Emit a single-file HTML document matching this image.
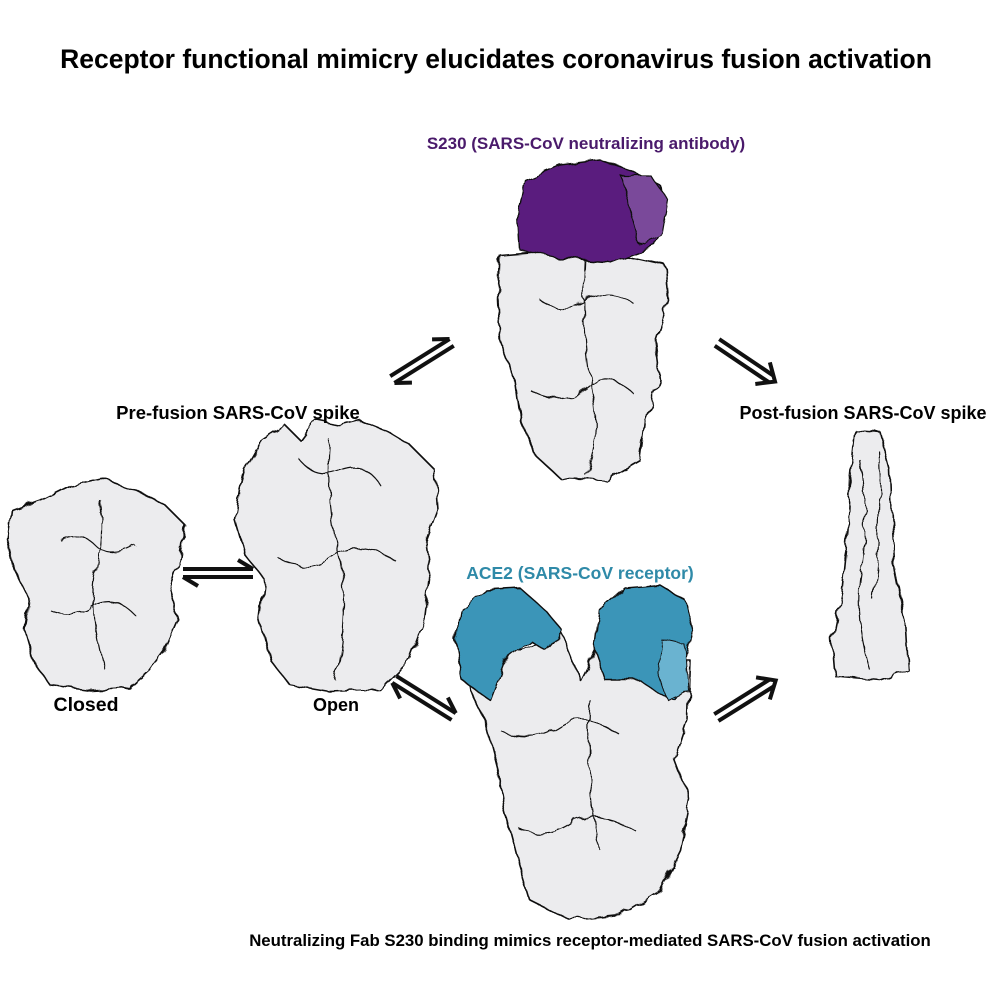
<!DOCTYPE html>
<html><head><meta charset="utf-8"><style>
html,body{margin:0;padding:0;background:#fff}
svg{display:block}
text{font-family:"Liberation Sans",Arial,sans-serif;font-weight:bold}
</style></head><body>
<svg width="996" height="996" viewBox="0 0 996 996" xmlns="http://www.w3.org/2000/svg">
<defs>
<filter id="wob" x="-5%" y="-5%" width="110%" height="110%">
<feTurbulence type="fractalNoise" baseFrequency="0.06" numOctaves="2" seed="3"/>
<feDisplacementMap in="SourceGraphic" scale="9"/>
</filter>
<g id="eq" fill="none" stroke="#111" stroke-width="4" stroke-linecap="butt">
<line x1="-35" y1="-4" x2="35" y2="-4"/><line x1="35" y1="-4" x2="20" y2="-13"/>
<line x1="35" y1="4" x2="-35" y2="4"/><line x1="-35" y1="4" x2="-20" y2="13"/>
</g>
<g id="fw" fill="none" stroke="#111" stroke-width="4">
<line x1="-35" y1="-4" x2="30" y2="-4"/><line x1="-35" y1="4" x2="30" y2="4"/>
<polyline points="20,-13 35,0 20,13"/>
</g>
</defs>
<text x="496" y="68" font-size="26.5" text-anchor="middle" fill="#000">Receptor functional mimicry elucidates coronavirus fusion activation</text>

<g filter="url(#wob)">
<g fill="#ececee" stroke="#111" stroke-width="1.6" stroke-linejoin="round">
<polygon points="40,500 70,485 100,478 135,490 165,505 185,525 180,560 170,590 178,620 165,650 150,670 130,688 90,690 50,685 35,665 25,630 30,600 15,570 8,540 12,510"/>
<polygon points="245,470 262,440 285,425 300,440 315,420 340,425 360,420 385,430 410,445 435,470 438,510 425,545 430,580 425,620 410,660 380,690 330,692 290,685 270,660 260,620 265,580 245,555 235,520 240,490"/>
<polygon points="500,255 560,250 620,255 665,265 668,300 655,340 660,380 645,420 640,460 605,480 560,478 535,455 520,420 515,380 500,340 498,300"/>
<polygon points="462,640 520,650 560,630 580,680 600,640 640,660 690,660 688,720 675,760 690,800 680,850 660,890 620,915 570,920 530,900 518,860 505,810 498,770 485,720 470,690"/>
<polygon points="855,430 880,432 890,470 892,520 895,570 905,620 908,670 880,680 835,676 832,640 842,590 848,530 850,480"/>
</g>
<g fill="none" stroke="#111" stroke-width="1.2">
<path d="M60,540 q20,-10 35,5 q15,15 40,0 M50,610 q25,10 45,-5 q20,-10 40,10 M100,500 q5,40 -5,80 q-5,40 10,90"/>
<path d="M300,460 q15,20 40,10 q25,-10 40,15 M280,560 q30,15 55,-5 q25,-15 60,5 M330,440 q-5,60 10,120 q10,50 -5,120"/>
<path d="M540,300 q20,15 45,0 q25,-15 50,5 M530,390 q30,20 60,-5 q20,-15 45,10 M585,255 q-5,80 10,150 q5,40 -10,70"/>
<path d="M860,460 q10,60 0,120 q-5,40 10,90 M878,450 q5,80 -5,150"/>
<path d="M500,730 q30,15 60,-5 q25,-15 60,10 M520,830 q30,10 55,-10 q25,-10 60,10 M590,700 q-5,80 10,150"/>
</g>
<polygon points="518,215 525,180 560,165 600,160 630,170 660,185 665,220 655,245 610,262 560,258 520,250" fill="#5a1f7e" stroke="#111" stroke-width="1.4" stroke-linejoin="round"/>
<polygon points="620,175 650,175 668,200 662,235 640,245" fill="#7a4a9a" stroke="#111" stroke-width="1.2"/>
<polygon points="460,610 485,590 520,588 545,610 562,630 545,650 530,640 505,660 490,700 462,680 455,640" fill="#3a95b8" stroke="#111" stroke-width="1.4" stroke-linejoin="round"/>
<polygon points="600,610 625,588 660,585 685,600 692,630 685,660 675,700 660,695 640,680 605,680 595,650" fill="#3a95b8" stroke="#111" stroke-width="1.4" stroke-linejoin="round"/>
<polygon points="662,640 685,645 688,690 668,700 658,672" fill="#6ab3d0" stroke="#111" stroke-width="1"/>
</g>

<use href="#eq" transform="translate(218,573)"/>
<use href="#eq" transform="translate(422,361) rotate(-32)"/>
<use href="#eq" transform="translate(424,698) rotate(212)"/>
<use href="#fw" transform="translate(746,362) rotate(34)"/>
<use href="#fw" transform="translate(746,699) rotate(-32)"/>

<g fill="#000">
<text x="586" y="149" text-anchor="middle" fill="#4a1a6b" font-size="17">S230 (SARS-CoV neutralizing antibody)</text>
<text x="238" y="419" text-anchor="middle" font-size="18.5">Pre-fusion SARS-CoV spike</text>
<text x="863" y="419" text-anchor="middle" font-size="18">Post-fusion SARS-CoV spike</text>
<text x="86" y="711" text-anchor="middle" font-size="19.5">Closed</text>
<text x="336" y="711" text-anchor="middle" font-size="18">Open</text>
<text x="580" y="579" text-anchor="middle" fill="#2f8aa8" font-size="17.5">ACE2 (SARS-CoV receptor)</text>
<text x="590" y="946" text-anchor="middle" font-size="16.8">Neutralizing Fab S230 binding mimics receptor-mediated SARS-CoV fusion activation</text>
</g>
</svg>
</body></html>
